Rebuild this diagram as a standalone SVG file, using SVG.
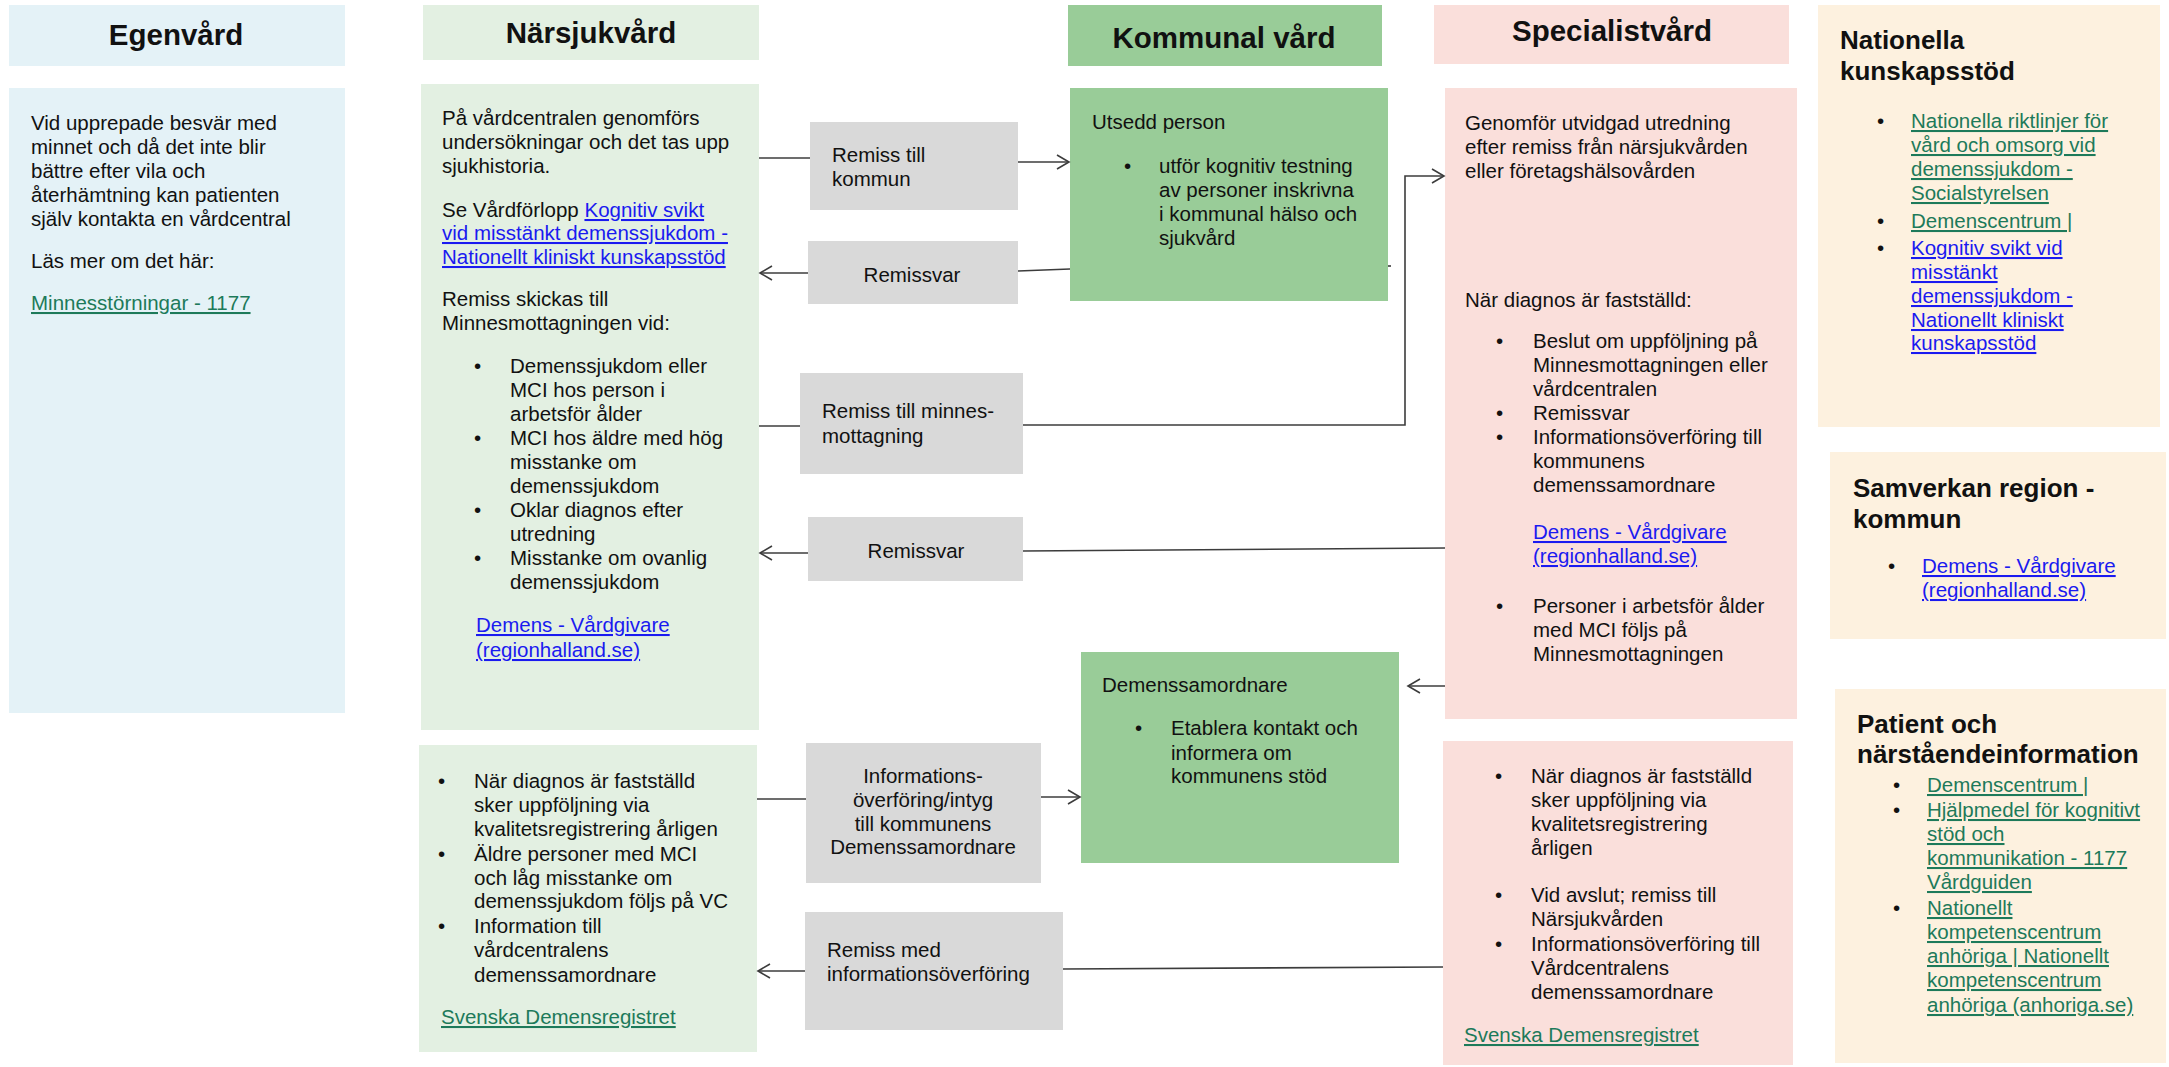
<svg xmlns="http://www.w3.org/2000/svg" width="2169" height="1067" viewBox="0 0 2169 1067">
<defs>
<style>
text{font-family:"Liberation Sans",Arial,sans-serif;font-size:20.5px;fill:#111}
.h{font-weight:bold;font-size:29.5px;text-anchor:middle}
.h2{font-weight:bold;font-size:26px}
.c{text-anchor:middle}
.lg{fill:#1d7a5a;text-decoration:underline}
.lb{fill:#1a1af0;text-decoration:underline}
.ego{fill:#e4f2f7}
.nar{fill:#e3f0e2}
.kom{fill:#99cc98}
.gry{fill:#d9d9d9}
.spe{fill:#fadfdb}
.nat{fill:#fdf1df}
.cn{fill:none;stroke:#3c3c3c;stroke-width:1.6}
</style>
<marker id="arr" markerUnits="userSpaceOnUse" markerWidth="16" markerHeight="18" refX="13" refY="8" orient="auto">
<path d="M1,1 L13,8 L1,15" fill="none" stroke="#3c3c3c" stroke-width="1.6"/>
</marker>
</defs>
<rect width="2169" height="1067" fill="#fff"/>

<g id="egenvard-header">
<rect class="ego" x="9" y="5" width="336" height="61"/>
<text class="h" x="176" y="45">Egenvård</text>
</g>
<g id="narsjukvard-header">
<rect class="nar" x="423" y="5" width="336" height="55"/>
<text class="h" x="591" y="43">Närsjukvård</text>
</g>
<g id="kommunal-header">
<rect class="kom" x="1068" y="5" width="314" height="61"/>
<text class="h" x="1224" y="48">Kommunal vård</text>
</g>
<g id="specialist-header">
<rect class="spe" x="1434" y="5" width="355" height="59"/>
<text class="h" x="1612" y="41">Specialistvård</text>
</g>

<g id="egenvard">
<rect class="ego" x="9" y="88" width="336" height="625"/>
<text x="31" y="130">Vid upprepade besvär med</text>
<text x="31" y="154">minnet och då det inte blir</text>
<text x="31" y="178">bättre efter vila och</text>
<text x="31" y="202">återhämtning kan patienten</text>
<text x="31" y="226">själv kontakta en vårdcentral</text>
<text x="31" y="268">Läs mer om det här:</text>
<text class="lg" x="31" y="310">Minnesstörningar - 1177</text>
</g>

<g id="narsjukvard">
<rect class="nar" x="421" y="84" width="338" height="646"/>
<text x="442" y="125">På vårdcentralen genomförs</text>
<text x="442" y="149">undersökningar och det tas upp</text>
<text x="442" y="173">sjukhistoria.</text>
<text x="442" y="217">Se Vårdförlopp <tspan class="lb">Kognitiv svikt</tspan></text>
<text class="lb" x="442" y="240">vid misstänkt demenssjukdom -</text>
<text class="lb" x="442" y="264">Nationellt kliniskt kunskapsstöd</text>
<text x="442" y="306">Remiss skickas till</text>
<text x="442" y="330">Minnesmottagningen vid:</text>
<text x="474" y="373">•</text>
<text x="510" y="373">Demenssjukdom eller</text>
<text x="510" y="397">MCI hos person i</text>
<text x="510" y="421">arbetsför ålder</text>
<text x="474" y="445">•</text>
<text x="510" y="445">MCI hos äldre med hög</text>
<text x="510" y="469">misstanke om</text>
<text x="510" y="493">demenssjukdom</text>
<text x="474" y="517">•</text>
<text x="510" y="517">Oklar diagnos efter</text>
<text x="510" y="541">utredning</text>
<text x="474" y="565">•</text>
<text x="510" y="565">Misstanke om ovanlig</text>
<text x="510" y="589">demenssjukdom</text>
<text class="lb" x="476" y="632">Demens - Vårdgivare</text>
<text class="lb" x="476" y="657">(regionhalland.se)</text>
</g>

<g id="narsjukvard-uppfoljning">
<rect class="nar" x="419" y="745" width="338" height="307"/>
<text x="438" y="788">•</text>
<text x="474" y="788">När diagnos är fastställd</text>
<text x="474" y="812">sker uppföljning via</text>
<text x="474" y="836">kvalitetsregistrering årligen</text>
<text x="438" y="861">•</text>
<text x="474" y="861">Äldre personer med MCI</text>
<text x="474" y="885">och låg misstanke om</text>
<text x="474" y="908">demenssjukdom följs på VC</text>
<text x="438" y="933">•</text>
<text x="474" y="933">Information till</text>
<text x="474" y="957">vårdcentralens</text>
<text x="474" y="982">demenssamordnare</text>
<text class="lg" x="441" y="1024">Svenska Demensregistret</text>
</g>

<g id="utsedd-person">
<rect class="kom" x="1070" y="88" width="318" height="213"/>
<text x="1092" y="129">Utsedd person</text>
<text x="1124" y="173">•</text>
<text x="1159" y="173">utför kognitiv testning</text>
<text x="1159" y="197">av personer inskrivna</text>
<text x="1159" y="221">i kommunal hälso och</text>
<text x="1159" y="245">sjukvård</text>
</g>

<g id="demenssamordnare">
<rect class="kom" x="1081" y="652" width="318" height="211"/>
<text x="1102" y="692">Demenssamordnare</text>
<text x="1135" y="735">•</text>
<text x="1171" y="735">Etablera kontakt och</text>
<text x="1171" y="760">informera om</text>
<text x="1171" y="783">kommunens stöd</text>
</g>

<g id="specialistvard">
<rect class="spe" x="1445" y="88" width="352" height="631"/>
<text x="1465" y="130">Genomför utvidgad utredning</text>
<text x="1465" y="154">efter remiss från närsjukvården</text>
<text x="1465" y="178">eller företagshälsovården</text>
<text x="1465" y="307">När diagnos är fastställd:</text>
<text x="1496" y="348">•</text>
<text x="1533" y="348">Beslut om uppföljning på</text>
<text x="1533" y="372">Minnesmottagningen eller</text>
<text x="1533" y="396">vårdcentralen</text>
<text x="1496" y="420">•</text>
<text x="1533" y="420">Remissvar</text>
<text x="1496" y="444">•</text>
<text x="1533" y="444">Informationsöverföring till</text>
<text x="1533" y="468">kommunens</text>
<text x="1533" y="492">demenssamordnare</text>
<text class="lb" x="1533" y="539">Demens - Vårdgivare</text>
<text class="lb" x="1533" y="563">(regionhalland.se)</text>
<text x="1496" y="613">•</text>
<text x="1533" y="613">Personer i arbetsför ålder</text>
<text x="1533" y="637">med MCI följs på</text>
<text x="1533" y="661">Minnesmottagningen</text>
</g>

<g id="specialistvard-uppfoljning">
<rect class="spe" x="1443" y="741" width="350" height="324"/>
<text x="1495" y="783">•</text>
<text x="1531" y="783">När diagnos är fastställd</text>
<text x="1531" y="807">sker uppföljning via</text>
<text x="1531" y="831">kvalitetsregistrering</text>
<text x="1531" y="855">årligen</text>
<text x="1495" y="902">•</text>
<text x="1531" y="902">Vid avslut; remiss till</text>
<text x="1531" y="926">Närsjukvården</text>
<text x="1495" y="951">•</text>
<text x="1531" y="951">Informationsöverföring till</text>
<text x="1531" y="975">Vårdcentralens</text>
<text x="1531" y="999">demenssamordnare</text>
<text class="lg" x="1464" y="1042">Svenska Demensregistret</text>
</g>

<g id="nationella-kunskapsstod">
<rect class="nat" x="1818" y="5" width="342" height="422"/>
<text class="h2" x="1840" y="49">Nationella</text>
<text class="h2" x="1840" y="80">kunskapsstöd</text>
<text x="1877" y="128">•</text>
<text class="lg" x="1911" y="128">Nationella riktlinjer för</text>
<text class="lg" x="1911" y="152">vård och omsorg vid</text>
<text class="lg" x="1911" y="176">demenssjukdom -</text>
<text class="lg" x="1911" y="200">Socialstyrelsen</text>
<text x="1877" y="228">•</text>
<text class="lg" x="1911" y="228">Demenscentrum |</text>
<text x="1877" y="255">•</text>
<text class="lb" x="1911" y="255">Kognitiv svikt vid</text>
<text class="lb" x="1911" y="279">misstänkt</text>
<text class="lb" x="1911" y="303">demenssjukdom -</text>
<text class="lb" x="1911" y="327">Nationellt kliniskt</text>
<text class="lb" x="1911" y="350">kunskapsstöd</text>
</g>

<g id="samverkan">
<rect class="nat" x="1830" y="452" width="336" height="187"/>
<text class="h2" x="1853" y="497">Samverkan region -</text>
<text class="h2" x="1853" y="528">kommun</text>
<text x="1888" y="573">•</text>
<text class="lb" x="1922" y="573">Demens - Vårdgivare</text>
<text class="lb" x="1922" y="597">(regionhalland.se)</text>
</g>

<g id="patient-narstaende">
<rect class="nat" x="1835" y="689" width="331" height="374"/>
<text class="h2" x="1857" y="733">Patient och</text>
<text class="h2" x="1857" y="763">närståendeinformation</text>
<text x="1893" y="792">•</text>
<text class="lg" x="1927" y="792">Demenscentrum |</text>
<text x="1893" y="817">•</text>
<text class="lg" x="1927" y="817">Hjälpmedel för kognitivt</text>
<text class="lg" x="1927" y="841">stöd och</text>
<text class="lg" x="1927" y="865">kommunikation - 1177</text>
<text class="lg" x="1927" y="889">Vårdguiden</text>
<text x="1893" y="915">•</text>
<text class="lg" x="1927" y="915">Nationellt</text>
<text class="lg" x="1927" y="939">kompetenscentrum</text>
<text class="lg" x="1927" y="963">anhöriga | Nationellt</text>
<text class="lg" x="1927" y="987">kompetenscentrum</text>
<text class="lg" x="1927" y="1012">anhöriga (anhoriga.se)</text>
</g>

<g id="remiss-till-kommun">
<rect class="gry" x="810" y="122" width="208" height="88"/>
<text x="832" y="162">Remiss till</text>
<text x="832" y="186">kommun</text>
</g>
<g id="remissvar-kommun">
<rect class="gry" x="808" y="241" width="210" height="63"/>
<text class="c" x="912" y="282">Remissvar</text>
</g>
<g id="remiss-minnesmottagning">
<rect class="gry" x="800" y="373" width="223" height="101"/>
<text x="822" y="418">Remiss till minnes-</text>
<text x="822" y="443">mottagning</text>
</g>
<g id="remissvar-specialist">
<rect class="gry" x="808" y="517" width="215" height="64"/>
<text class="c" x="916" y="558">Remissvar</text>
</g>
<g id="informationsoverforing">
<rect class="gry" x="806" y="743" width="235" height="140"/>
<text class="c" x="923" y="783">Informations-</text>
<text class="c" x="923" y="807">överföring/intyg</text>
<text class="c" x="923" y="831">till kommunens</text>
<text class="c" x="923" y="854">Demenssamordnare</text>
</g>
<g id="remiss-med-info">
<rect class="gry" x="805" y="912" width="258" height="118"/>
<text x="827" y="957">Remiss med</text>
<text x="827" y="981">informationsöverföring</text>
</g>

<g id="connectors">
<path class="cn" d="M759,158 L810,158"/>
<path class="cn" d="M1018,162 L1069,162" marker-end="url(#arr)"/>
<path class="cn" d="M1070,269 L1018,271"/>
<path class="cn" d="M808,273 L760,273" marker-end="url(#arr)"/>
<path class="cn" d="M1388,266 L1391,266"/>
<path class="cn" d="M759,426 L800,426"/>
<path class="cn" d="M1023,425 L1405,425 L1405,176 L1444,176" marker-end="url(#arr)"/>
<path class="cn" d="M1445,548 L1023,551"/>
<path class="cn" d="M808,553 L760,553" marker-end="url(#arr)"/>
<path class="cn" d="M1445,686 L1408,686" marker-end="url(#arr)"/>
<path class="cn" d="M757,799 L806,799"/>
<path class="cn" d="M1041,797 L1080,797" marker-end="url(#arr)"/>
<path class="cn" d="M1443,967 L1063,969"/>
<path class="cn" d="M805,971 L758,971" marker-end="url(#arr)"/>
</g>
</svg>
